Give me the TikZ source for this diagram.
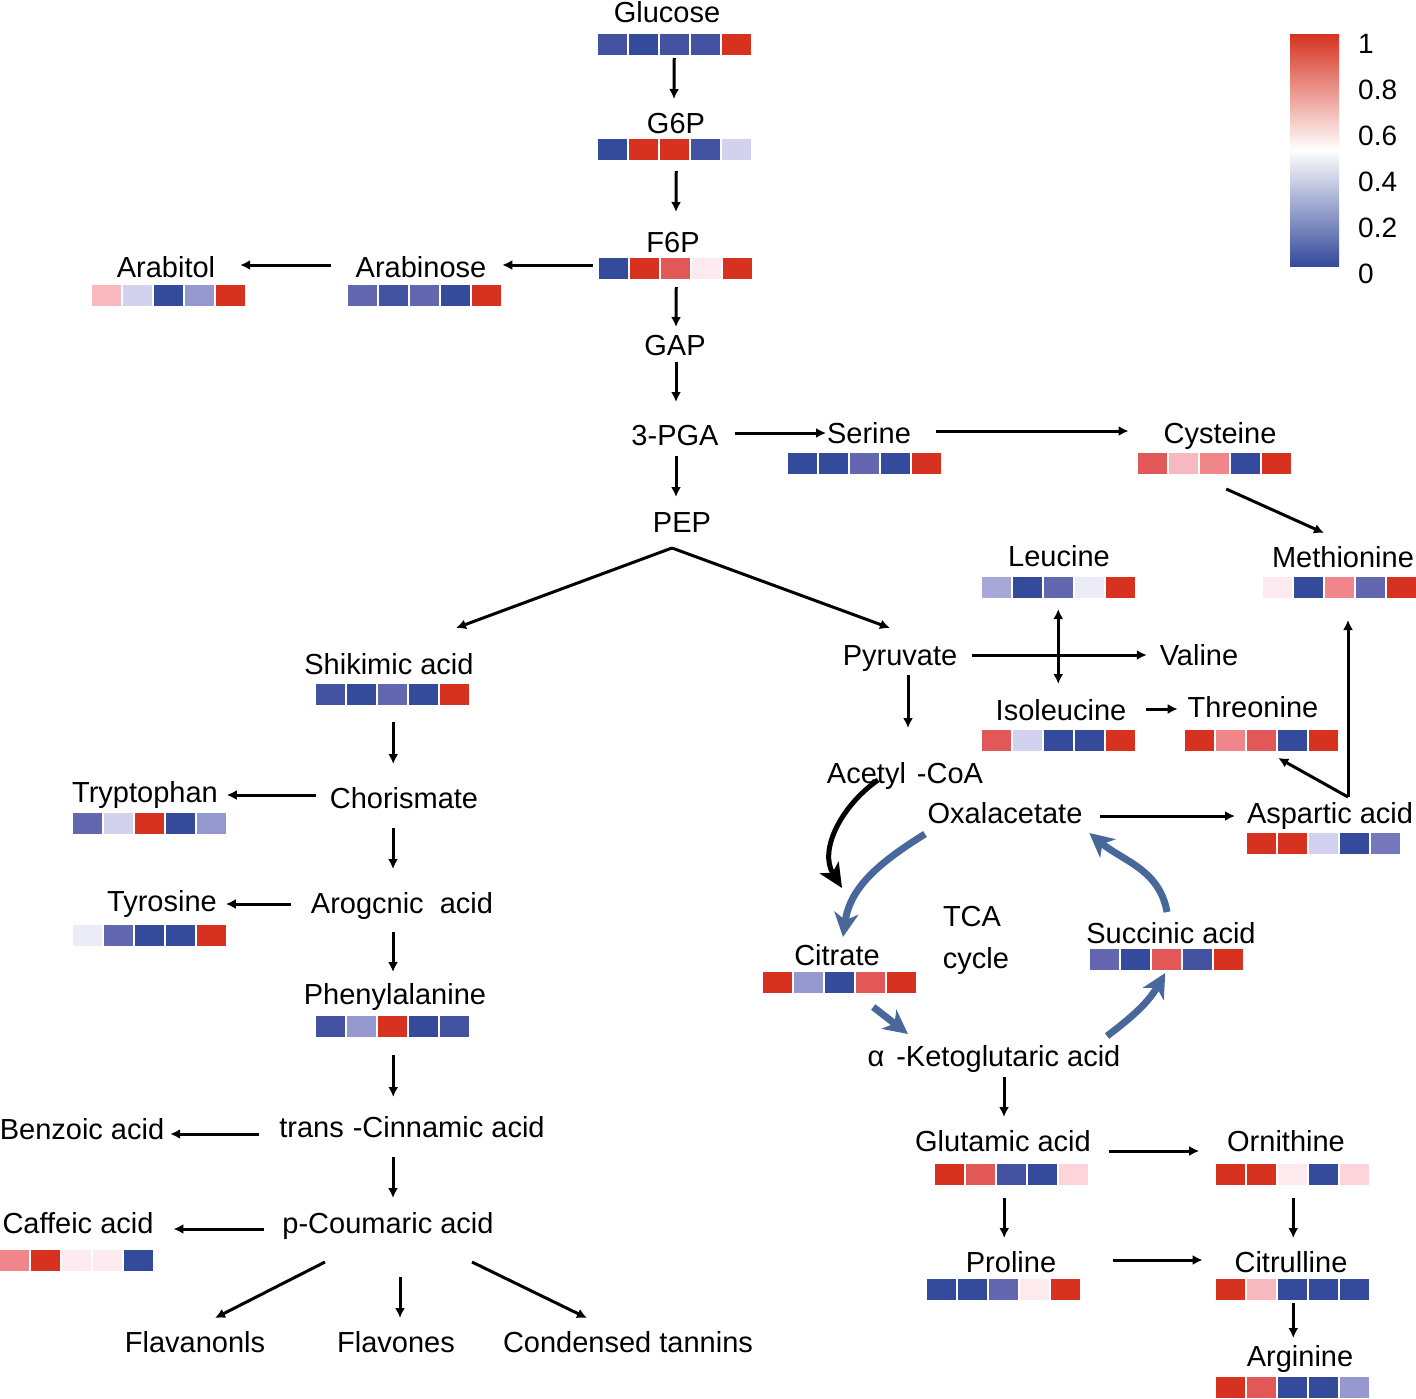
\documentclass[tikz,border=0pt]{standalone}
\usepackage{fontspec}
\setmainfont{Liberation Sans}
\usetikzlibrary{calc,arrows.meta}
\definecolor{DB}{RGB}{52,74,155}
\definecolor{MB}{RGB}{68,82,162}
\definecolor{PB}{RGB}{98,103,176}
\definecolor{LBb}{RGB}{118,120,190}
\definecolor{LB}{RGB}{150,152,208}
\definecolor{LBa}{RGB}{168,168,216}
\definecolor{VL}{RGB}{210,210,238}
\definecolor{WL}{RGB}{236,236,248}
\definecolor{WP}{RGB}{253,234,238}
\definecolor{LPa}{RGB}{253,212,218}
\definecolor{LP}{RGB}{247,184,190}
\definecolor{PK}{RGB}{240,134,138}
\definecolor{MR}{RGB}{226,88,88}
\definecolor{RD}{RGB}{215,50,32}
\definecolor{tcablue}{RGB}{72,104,156}
\newcommand\hrow[8]{%
  \node[hbox] (#1) at (#2,#3) {};
  \foreach \i/\c in {0/#4,1/#5,2/#6,3/#7,4/#8}{\fill[\c] ({#2+31*\i},#3) rectangle ++(28.5,21);}
}
\begin{document}
\begin{tikzpicture}[x=1pt,y=-1pt,
  lbl/.style={font=\fontsize{29}{33}\selectfont, inner sep=0pt, outer sep=0pt, text height=21pt, text depth=6pt, anchor=base},
  leg/.style={font=\fontsize{28}{32}\selectfont, inner sep=0pt, anchor=base west},
  hbox/.style={anchor=north west, minimum width=152.5pt, minimum height=21pt, inner sep=0pt, outer sep=0pt},
  arr/.style={line width=3pt, -{Latex[length=10pt,width=10pt]}},
  dbl/.style={line width=3pt, {Latex[length=10pt,width=10pt]}-{Latex[length=10pt,width=10pt]}},
  tca/.style={line width=7pt, draw=tcablue, -{Stealth[length=24pt,width=24pt,inset=7pt]}},
  big/.style={line width=5pt, -{Stealth[length=24pt,width=22pt,inset=6pt]}}]
\useasboundingbox (0,0) rectangle (1416,1398);
\fill[white] (0,0) rectangle (1416,1398);

% ---- labels ----
\node[lbl] (glc) at (667,22) {Glucose};
\node[lbl] (g6p) at (676,133) {G6P};
\node[lbl] (f6p) at (673,252) {F6P};
\node[lbl] (arabinose) at (421,277) {Arabinose};
\node[lbl] (arabitol) at (166,277) {Arabitol};
\node[lbl] (gap) at (675,355) {GAP};
\node[lbl] (pga) at (675,445) {3-PGA};
\node[lbl] (serine) at (869,443) {Serine};
\node[lbl] (cysteine) at (1220,443) {Cysteine};
\node[lbl] (pep) at (682,532) {PEP};
\node[lbl] (leucine) at (1059,566) {Leucine};
\node[lbl] (methionine) at (1343,567) {Methionine};
\node[lbl] (shikimic) at (389,674) {Shikimic acid};
\node[lbl] (pyruvate) at (900,665) {Pyruvate};
\node[lbl] (valine) at (1199,665) {Valine};
\node[lbl] (isoleucine) at (1061,720) {Isoleucine};
\node[lbl] (threonine) at (1253,717) {Threonine};
\node[lbl] (acetyl) at (905,783) {Acetyl\hspace{11pt}-CoA};
\node[lbl] (tryptophan) at (145,802) {Tryptophan};
\node[lbl] (chorismate) at (404,808) {Chorismate};
\node[lbl] (oxal) at (1005,823) {Oxalacetate};
\node[lbl] (aspartic) at (1330,823) {Aspartic acid};
\node[lbl] (tca) at (972,926) {TCA};
\node[lbl] (cycle) at (976,968) {cycle};
\node[lbl] (tyrosine) at (162,911) {Tyrosine};
\node[lbl] (arog) at (402,913) {Arogcnic\ \ acid};
\node[lbl] (succinic) at (1171,943) {Succinic acid};
\node[lbl] (citrate) at (837,965) {Citrate};
\node[lbl] (phenyl) at (395,1004) {Phenylalanine};
\node[lbl] (akg) at (994,1066) {α\hspace{12pt}-Ketoglutaric acid};
\node[lbl] (cinnamic) at (412,1137) {trans\hspace{9pt}-Cinnamic acid};
\node[lbl] (benzoic) at (82,1139) {Benzoic acid};
\node[lbl] (glutamic) at (1003,1151) {Glutamic acid};
\node[lbl] (ornithine) at (1286,1151) {Ornithine};
\node[lbl] (caffeic) at (78,1233) {Caffeic acid};
\node[lbl] (coumaric) at (388,1233) {p-Coumaric acid};
\node[lbl] (proline) at (1011,1272) {Proline};
\node[lbl] (citrulline) at (1291,1272) {Citrulline};
\node[lbl] (flavanonls) at (195,1352) {Flavanonls};
\node[lbl] (flavones) at (396,1352) {Flavones};
\node[lbl] (tannins) at (628,1352) {Condensed tannins};
\node[lbl] (arginine) at (1300,1366) {Arginine};

% ---- heat rows ----
\hrow{glch}{598}{34}{MB}{DB}{MB}{MB}{RD}
\hrow{g6ph}{598}{139}{DB}{RD}{RD}{MB}{VL}
\hrow{f6ph}{599}{258}{DB}{RD}{MR}{WP}{RD}
\hrow{arabinoseh}{348}{285}{PB}{MB}{PB}{DB}{RD}
\hrow{arabitolh}{92}{285}{LP}{VL}{DB}{LB}{RD}
\hrow{serineh}{788}{453}{DB}{DB}{PB}{DB}{RD}
\hrow{cysteineh}{1138}{453}{MR}{LP}{PK}{DB}{RD}
\hrow{methionineh}{1263}{577}{WP}{DB}{PK}{PB}{RD}
\hrow{leucineh}{982}{577}{LBa}{DB}{PB}{WL}{RD}
\hrow{shikimich}{316}{684}{MB}{DB}{PB}{DB}{RD}
\hrow{isoleucineh}{982}{730}{MR}{VL}{DB}{DB}{RD}
\hrow{threonineh}{1185}{730}{RD}{PK}{MR}{DB}{RD}
\hrow{tryptophanh}{73}{813}{PB}{VL}{RD}{DB}{LB}
\hrow{aspartich}{1247}{833}{RD}{RD}{VL}{DB}{LBb}
\hrow{tyrosineh}{73}{925}{WL}{PB}{DB}{DB}{RD}
\hrow{succinich}{1090}{949}{PB}{DB}{MR}{MB}{RD}
\hrow{citrateh}{763}{972}{RD}{LB}{DB}{MR}{RD}
\hrow{phenylh}{316}{1016}{MB}{LB}{RD}{DB}{MB}
\hrow{glutamich}{935}{1164}{RD}{MR}{MB}{DB}{LPa}
\hrow{ornithineh}{1216}{1164}{RD}{RD}{WP}{DB}{LPa}
\hrow{caffeich}{0}{1250}{PK}{RD}{WP}{WP}{DB}
\hrow{prolineh}{927}{1279}{DB}{DB}{PB}{WP}{RD}
\hrow{citrullineh}{1216}{1279}{RD}{LP}{DB}{DB}{DB}
\hrow{arginineh}{1216}{1377}{RD}{MR}{DB}{DB}{LB}

% ---- legend ----
\shade[top color=RD, bottom color=white] (1290,34) rectangle (1339,150);
\shade[top color=white, bottom color=DB] (1290,150) rectangle (1339,266);
\node[leg] (l1) at (1358,53) {1};
\node[leg] (l08) at (1358,99) {0.8};
\node[leg] (l06) at (1358,145) {0.6};
\node[leg] (l04) at (1358,191) {0.4};
\node[leg] (l02) at (1358,237) {0.2};
\node[leg] (l0) at (1358,283) {0};

% ---- connectors: glycolysis ----
\draw[arr] ($(glch.south)+(0,3)$) -- ($(g6p.north)+(-2,-13)$);
\draw[arr] ($(g6ph.south)+(2,11)$) -- ($(f6p.north)+(3,-19)$);
\draw[arr] ($(f6ph.south)+(1,8)$) -- ($(gap.north)+(1,-7)$);
\draw[arr] ($(gap.south)+(1,1)$) -- ($(pga.north)+(1,-22)$);
\draw[arr] ($(pga.south)+(1,5)$) -- ($(pep.north)+(-6,-14)$);
\draw[arr] ($(f6ph.west)+(-6,-3.5)$) coordinate (s1) -- ($(s1 -| arabinose.east)+(16,0)$);
\draw[arr] ($(arabinose.west)+(-25,-4.5)$) coordinate (s2) -- ($(s2 -| arabitol.east)+(25,0)$);
\draw[arr] ($(pga.east)+(16,-4.5)$) coordinate (s3) -- ($(s3 -| serine.west)+(-1,0)$);
\draw[arr] ($(serine.east)+(25,-4.5)$) coordinate (s4) -- ($(s4 -| cysteine.west)+(-35,0)$);
\draw[arr] ($(cysteineh.south)+(12,15)$) -- ($(methionine.north)+(-19,-13)$);
\draw[arr] ($(pep.south)+(-10,10)$) -- ($(shikimic.north)+(67,-25)$);
\draw[arr] ($(pep.south)+(-10,10)$) -- ($(pyruvate.north)+(-10,-16)$);
\draw[arr] ($(pyruvate.east)+(15,-2.5)$) coordinate (s5) -- ($(s5 -| valine.west)+(-13,0)$);
\draw[dbl] ($(leucineh.south)+(0,11)$) coordinate (s6) -- ($(s6 |- isoleucine.north)+(0,-15)$);
\draw[arr] ($(isoleucine.east)+(20,-3.5)$) coordinate (s7) -- ($(s7 -| threonine.west)+(-10,0)$);
\draw[arr] ($(pyruvate.south)+(8,4)$) coordinate (s8) -- ($(s8 |- acetyl.north)+(0,-34)$);
\draw[arr] ($(aspartic.north)+(18,-5)$) coordinate (s9) -- ($(s9 |- methionineh.south)+(0,22)$);
\draw[arr] (s9) -- ($(threonineh.south)+(17,7)$);
\draw[arr] ($(oxal.east)+(18,0.5)$) coordinate (s10) -- ($(s10 -| aspartic.west)+(-12,0)$);

% ---- shikimate branch ----
\draw[arr] ($(shikimich.south)+(1,17)$) coordinate (t1) -- ($(t1 |- chorismate.north)+(0,-23)$);
\draw[arr] ($(chorismate.west)+(-14,-5.5)$) coordinate (t2) -- ($(t2 -| tryptophan.east)+(9,0)$);
\draw[arr] ($(chorismate.south)+(-11,14)$) coordinate (t3) -- ($(t3 |- arog.north)+(0,-23)$);
\draw[arr] ($(arog.west)+(-20,-1.5)$) coordinate (t4) -- ($(t4 -| tyrosine.east)+(9,0)$);
\draw[arr] ($(arog.south)+(-9,13)$) coordinate (t5) -- ($(t5 |- phenyl.north)+(0,-11)$);
\draw[arr] ($(phenylh.south)+(1,18)$) coordinate (t6) -- ($(t6 |- cinnamic.north)+(0,-19)$);
\draw[arr] ($(cinnamic.west)+(-20,4.5)$) coordinate (t7) -- ($(t7 -| benzoic.east)+(6,0)$);
\draw[arr] ($(cinnamic.south)+(-19,14)$) coordinate (t8) -- ($(t8 |- coumaric.north)+(0,-14)$);
\draw[arr] ($(coumaric.west)+(-18,3.5)$) coordinate (t9) -- ($(t9 -| caffeic.east)+(20,0)$);
\draw[arr] ($(coumaric.south)+(-63,23)$) -- ($(flavanonls.north)+(20,-13)$);
\draw[arr] ($(coumaric.south)+(12,38)$) coordinate (t10) -- ($(t10 |- flavones.north)+(0,-13)$);
\draw[arr] ($(coumaric.south)+(84,23)$) -- ($(tannins.north)+(-41,-13)$);

% ---- glutamate branch ----
\draw[arr] ($(akg.south)+(10,5)$) coordinate (u1) -- ($(u1 |- glutamic.north)+(0,-13)$);
\draw[arr] ($(glutamic.east)+(18,7.5)$) coordinate (u2) -- ($(u2 -| ornithine.west)+(-28,0)$);
\draw[arr] ($(glutamich.south)+(-7,13)$) coordinate (u3) -- ($(u3 |- proline.north)+(0,-13)$);
\draw[arr] ($(proline.east)+(57,-4.5)$) coordinate (u4) -- ($(u4 -| citrulline.west)+(-32,0)$);
\draw[arr] ($(ornithineh.south)+(1,13)$) coordinate (u5) -- ($(u5 |- citrulline.north)+(0,-13)$);
\draw[arr] ($(citrullineh.south)+(1,3)$) coordinate (u6) -- ($(u6 |- arginine.north)+(0,-7)$);

% ---- TCA cycle ----
\draw[tca] ($(oxal.south)+(-80,5)$) to[out=212,in=82] ($(citrate.north)+(6,-7)$);
\draw[tca] ($(citrateh.south)+(34,14)$) -- ($(akg.north)+(-86,-11)$);
\draw[tca] ($(akg.north)+(113,-9)$) to[out=37,in=240] ($(succinich.south)+(-1,3)$);
\draw[tca] ($(succinic.north)+(-4,-10)$) to[out=100,in=-40] ($(oxal.east)+(7,17.5)$);
\draw[big] ($(acetyl.south)+(-27,-9)$) to[out=215,in=122] ($(citrate.north)+(5,-56)$);
\end{tikzpicture}
\end{document}
